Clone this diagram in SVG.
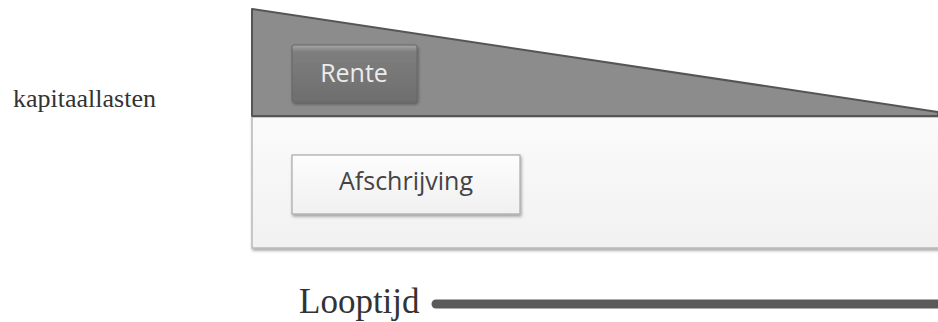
<svg xmlns="http://www.w3.org/2000/svg" width="938" height="322" viewBox="0 0 938 322">
<defs>
<linearGradient id="gRente" x1="0" y1="0" x2="0" y2="1">
<stop offset="0" stop-color="#a8a8a8"/>
<stop offset="0.12" stop-color="#7e7e7e"/>
<stop offset="1" stop-color="#6e6e6e"/>
</linearGradient>
<linearGradient id="gAfs" x1="0" y1="0" x2="0" y2="1">
<stop offset="0" stop-color="#fdfdfd"/>
<stop offset="1" stop-color="#f0f0f0"/>
</linearGradient>
<linearGradient id="gLight" x1="0" y1="0" x2="0" y2="1">
<stop offset="0" stop-color="#fbfbfb"/>
<stop offset="1" stop-color="#f1f1f1"/>
</linearGradient>
<filter id="sh" x="-10%" y="-10%" width="130%" height="140%">
<feGaussianBlur in="SourceAlpha" stdDeviation="1.5"/>
<feOffset dx="1" dy="2" result="b"/>
<feComponentTransfer><feFuncA type="linear" slope="0.35"/></feComponentTransfer>
<feMerge><feMergeNode/><feMergeNode in="SourceGraphic"/></feMerge>
</filter>
</defs>
<style>
.serif{font-family:"Liberation Serif","Times New Roman",serif;fill:#333}
.sans{font-family:"Open Sans","Noto Sans",sans-serif;font-size:25px}
</style>
<rect width="938" height="322" fill="#ffffff"/>
<g id="light-area">
<rect x="252" y="117" width="690" height="131" fill="url(#gLight)" stroke="#b8b8b8" stroke-width="1.5" filter="url(#sh)"/>
</g>
<g id="triangle">
<polygon points="252,9 938,112 938,116 252,116" fill="#8c8c8c" stroke="#555" stroke-width="2" stroke-linejoin="round"/>
</g>
<g id="rente">
<rect x="292" y="45" width="125" height="57" rx="2" fill="url(#gRente)" stroke="#666" stroke-width="1" filter="url(#sh)"/>
<text class="sans" x="354" y="82" text-anchor="middle" fill="#ececec">Rente</text>
</g>
<g id="afschrijving">
<rect x="292" y="155" width="228" height="59" fill="url(#gAfs)" stroke="#a8a8a8" stroke-width="1.2" filter="url(#sh)"/>
<text class="sans" x="406" y="190" text-anchor="middle" fill="#444">Afschrijving</text>
</g>
<g id="kapitaallasten">
<text class="serif" x="13" y="107" font-size="26">kapitaallasten</text>
</g>
<g id="looptijd">
<text class="serif" x="299" y="313" font-size="35">Looptijd</text>
</g>
<g id="connectors">
<line x1="436" y1="304" x2="950" y2="304" stroke="#5a5a5a" stroke-width="9" stroke-linecap="round"/>
</g>
</svg>
